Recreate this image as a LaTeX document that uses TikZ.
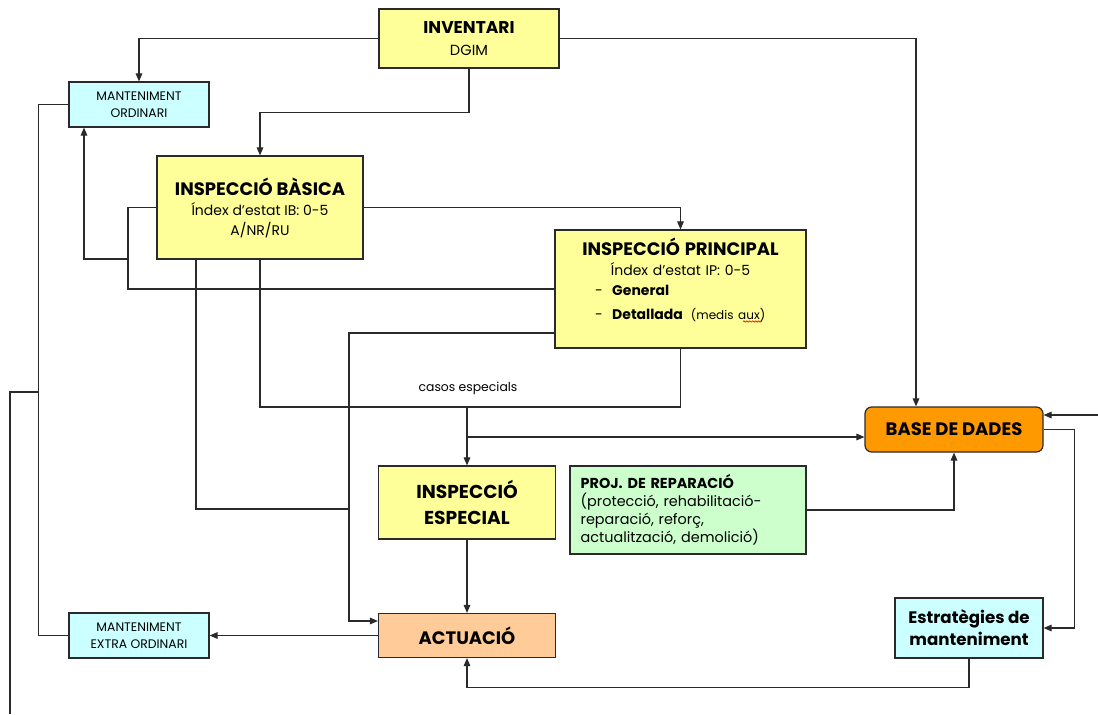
\documentclass[tikz,border=0pt]{standalone}
\usepackage{fontspec}
\setmainfont{Poppins}
\usetikzlibrary{arrows.meta,calc,decorations.pathmorphing}

\definecolor{boxyellow}{HTML}{FFFF99}
\definecolor{boxcyan}{HTML}{CCFFFF}
\definecolor{boxgreen}{HTML}{CCFFCC}
\definecolor{boxorange}{HTML}{FF9900}
\definecolor{boxpeach}{HTML}{FFCC99}
\definecolor{linegray}{HTML}{2A2A2A}

\newcommand{\boxtitle}[2][13.5]{{\fontsize{#1}{16}\selectfont\bfseries #2}}

\tikzset{
    box/.style={draw=linegray, line width=0.9pt, inner sep=2pt, align=center,
        font=\fontsize{10.5}{15}\selectfont},
    ybox/.style={box, fill=boxyellow},
    cbox/.style={box, fill=boxcyan},
    smallbox/.style={cbox, font=\fontsize{9.3}{13}\selectfont},
    link/.style={draw=linegray, line width=0.8pt},
    arr/.style={link, -{Triangle[length=6pt, width=5pt]}}
}

\begin{document}
\begin{tikzpicture}[x=0.75pt, y=-0.75pt]
    \useasboundingbox (0, 0) rectangle (1098, 714);

    % boxes
    \node[ybox, minimum width=135pt, minimum height=44.25pt, font=\fontsize{11}{17}\selectfont]
        (inv) at (469, 38.5) {\boxtitle[12.8]{INVENTARI}\\DGIM};
    \node[smallbox, minimum width=105pt, minimum height=33.75pt] (mo) at (139, 104.5)
        {MANTENIMENT\\ORDINARI};
    \node[ybox, minimum width=154.5pt, minimum height=77.25pt] (ib) at (260, 207.5)
        {\boxtitle{INSPECCIÓ BÀSICA}\\Índex d'estat IB: 0-5\\A/NR/RU};
    \node[ybox, minimum width=188.25pt, minimum height=88.5pt] (ip) at (680.5, 289) {};
    \node[anchor=north, text width=180pt, inner sep=0pt, font=\fontsize{10.5}{15}\selectfont]
        (iptext) at ($(ip.north)+(0, 8)$)
        {\centering\boxtitle{INSPECCIÓ PRINCIPAL}\\Índex d'estat IP: 0-5\par
         \raggedright\hspace*{26pt}-\hspace{7pt}\textbf{General}\\[3pt]
         \hspace*{26pt}-\hspace{7pt}\textbf{Detallada}\hspace{6pt}{\fontsize{9}{12}\selectfont(medis aux)}\par};
    \node[box, fill=boxorange, rounded corners=5pt, minimum width=133.5pt, minimum height=33.75pt]
        (bd) at (954, 429.5) {\boxtitle{BASE DE DADES}};
    \node[ybox, minimum width=132.75pt, minimum height=54.75pt, font=\fontsize{14}{20}\selectfont\bfseries]
        (ie) at (467, 502.5) {INSPECCIÓ\\ESPECIAL};
    \node[box, fill=boxgreen, minimum width=177pt, minimum height=66pt, text width=161pt,
        align=left, font=\fontsize{10.8}{13.6}\selectfont] (pr) at (688, 510)
        {\textbf{PROJ. DE REPARACIÓ}\\(protecció, rehabilitació-\\reparació, reforç,\\actualització, demolició)};
    \node[box, fill=boxpeach, minimum width=132.75pt, minimum height=33pt] (ac) at (467, 635.5)
        {\boxtitle{ACTUACIÓ}};
    \node[smallbox, minimum width=105pt, minimum height=33.75pt] (me) at (139, 635.5)
        {MANTENIMENT\\EXTRA ORDINARI};
    \node[cbox, minimum width=111pt, minimum height=45pt, font=\fontsize{12.5}{16.5}\selectfont\bfseries]
        (es) at (969, 628) {Estratègies de\\manteniment};
    \node[font=\fontsize{9.3}{11}\selectfont] (casos) at (468, 388) {casos especials};

    % spell-check wave under "aux"
    \draw[red, line width=0.5pt, decorate, decoration={snake, amplitude=0.5pt, segment length=2.2pt}]
        (743, 321.5) -- (762, 321.5);

    % bends
    \coordinate (kmo) at (128, 259);
    \coordinate (kac) at (349, 509);
    \coordinate (kie) at (467, 407);
    \coordinate (kbd) at (467, 437);
    \coordinate (kleft) at (39, 392);
    \coordinate (out) at (10, 714);
    \coordinate (feed) at (1098, 415);

    % from inventari
    \draw[arr] (inv.west) -| (mo.north);
    \draw[arr] (inv.south) -- ++(0, 44) -| (ib.north);
    \draw[arr] (inv.east) -| ($(bd.north)+(-38, 0)$);

    % inspections
    \draw[arr] (ib.east) -| (ip.north);
    \draw[arr] (ib.west) -| (kmo) -| ($(mo.south)+(-55, 0)$);
    \draw[link] (ip.west) -| (kmo);
    \draw[link] ($(ib.south)+(-64, 0)$) |- (kac);
    \draw[arr] ($(ip.west)+(0, 44)$) -| (kac) |- ($(ac.west)+(0, -14.5)$);
    \draw[link] (ib.south) |- (kie);
    \draw[link] (ip.south) |- (kie);
    \draw[arr] (kie) -- (ie.north);
    \draw[arr] (kbd) -- (kbd -| bd.west);
    \draw[arr] (ie.south) -- (ac.north);
    \draw[arr] (ac.west) -- (me.east);

    % maintenance, left side
    \draw[link] (mo.west) -- ++(-30, 0) |- (me.west);
    \draw[link] (kleft) -| (out);

    % data base
    \draw[arr] (pr.east) -| (bd.south);
    \draw[arr] (bd.east) -- ++(31, 0) |- (es.east);
    \draw[arr] (feed) -- (feed -| bd.east);
    \draw[arr] (es.south) -- ++(0, 29) -| (ac.south);
\end{tikzpicture}
\end{document}
